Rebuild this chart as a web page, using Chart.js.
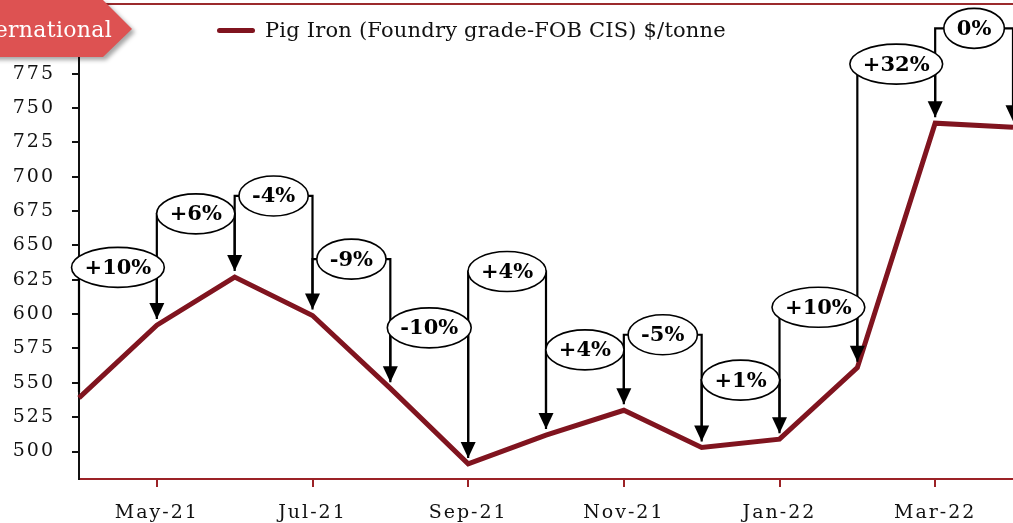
<!DOCTYPE html>
<html>
<head>
<meta charset="utf-8">
<script src="https://cdn.jsdelivr.net/npm/chart.js@4.4.1/dist/chart.umd.min.js"></script>
<style>
    html, body { margin: 0; padding: 0; background: #fff; }
    #wrap { position: relative; width: 1013px; height: 523px; overflow: hidden; }
    #pigChart { position: absolute; left: 0; top: 0; }
    .top-rule { position: absolute; left: 0; top: 3px; width: 1013px; height: 2px; background: #9b2a2c; }
    .tag-wrap { position: absolute; left: -20px; top: 0; filter: drop-shadow(3px 3px 2px rgba(0,0,0,0.35)); }
    .tag { width: 152px; height: 57px; background: #dd5252; clip-path: polygon(0 0, 123px 0, 152px 29px, 123px 57px, 0 57px); }
    .tag-text { position: absolute; right: 901px; top: 17px; color: #fff; font: 22px 'DejaVu Serif', serif; white-space: nowrap; letter-spacing: 0.3px; }
    .legend { position: absolute; left: 217px; top: 18px; display: flex; align-items: center; font: 21px 'DejaVu Serif', serif; color: #111; white-space: nowrap; letter-spacing: 0.2px; }
    .legend i { display: inline-block; width: 38px; height: 5px; border-radius: 3px; background: #80141f; margin-right: 10px; }
</style>
</head>
<body>
<div id="wrap">
    <canvas id="pigChart" width="1013" height="523"></canvas>
    <div class="top-rule"></div>
    <div class="tag-wrap"><div class="tag"></div></div>
    <div class="tag-text">International</div>
    <div class="legend"><i></i>Pig Iron (Foundry grade-FOB CIS) $/tonne</div>
</div>
<script>
const months = ['Apr-21', 'May-21', 'Jun-21', 'Jul-21', 'Aug-21', 'Sep-21', 'Oct-21', 'Nov-21', 'Dec-21', 'Jan-22', 'Feb-22', 'Mar-22', 'Apr-22'];
const pigIron = [539, 592, 627, 599, 546, 491, 512, 530, 503, 509, 561, 739, 736];
const changeLabels = ['+10%', '+6%', '-4%', '-9%', '-10%', '+4%', '+4%', '-5%', '+1%', '+10%', '+32%', '0%'];
const yTicks = [500, 525, 550, 575, 600, 625, 650, 675, 700, 725, 750, 775];

// height of each callout bubble, in $/tonne on the value axis
const calloutLevels = [634, 673, 686, 640, 590, 631, 574, 585, 552, 605, 782, 808];

const serif = "'DejaVu Serif', serif";

const spacingPlugin = {
    id: 'spacing',
    beforeUpdate(chart) { chart.ctx.letterSpacing = '2px'; },
    beforeDraw(chart) { chart.ctx.letterSpacing = '2px'; }
};

const calloutPlugin = {
    id: 'callouts',
    afterDatasetsDraw(chart) {
        const ctx = chart.ctx;
        const x = chart.scales.x;
        const y = chart.scales.y;
        ctx.save();
        ctx.letterSpacing = '0px';
        ctx.strokeStyle = '#000';
        ctx.fillStyle = '#000';

        // legs and arrows first, bubbles go on top
        changeLabels.forEach((txt, i) => {
            const x0 = x.getPixelForValue(i);
            const x1 = x.getPixelForValue(i + 1);
            const yl = y.getPixelForValue(calloutLevels[i]);
            const y0 = y.getPixelForValue(pigIron[i]) - 6;
            const y1 = y.getPixelForValue(pigIron[i + 1]) - 6;
            ctx.lineWidth = 2.2;
            ctx.beginPath();
            ctx.moveTo(x0, y0);
            ctx.lineTo(x0, yl);
            ctx.lineTo(x1, yl);
            ctx.lineTo(x1, y1 - 12);
            ctx.stroke();
            ctx.beginPath();
            ctx.moveTo(x1 - 7.5, y1 - 16);
            ctx.lineTo(x1 + 7.5, y1 - 16);
            ctx.lineTo(x1, y1);
            ctx.closePath();
            ctx.fill();
        });

        ctx.font = 'bold 21px ' + serif;
        ctx.textAlign = 'center';
        ctx.textBaseline = 'middle';
        changeLabels.forEach((txt, i) => {
            const cx = (x.getPixelForValue(i) + x.getPixelForValue(i + 1)) / 2;
            const cy = y.getPixelForValue(calloutLevels[i]);
            const w = ctx.measureText(txt).width + 26;
            ctx.beginPath();
            ctx.ellipse(cx, cy, w / 2, 20, 0, 0, Math.PI * 2);
            ctx.fillStyle = '#fff';
            ctx.fill();
            ctx.lineWidth = 1.6;
            ctx.stroke();
            ctx.fillStyle = '#000';
            ctx.fillText(txt, cx, cy + 1);
        });
        ctx.restore();
    }
};

new Chart(document.getElementById('pigChart'), {
    type: 'line',
    data: {
        labels: months,
        datasets: [{
            label: 'Pig Iron (Foundry grade-FOB CIS) $/tonne',
            data: pigIron,
            borderColor: '#80141f',
            borderWidth: 5,
            borderJoinStyle: 'miter',
            pointRadius: 0,
            tension: 0,
            fill: false
        }]
    },
    options: {
        responsive: false,
        animation: false,
        layout: { padding: { top: 5, right: 0, bottom: 0, left: 0 } },
        plugins: {
            legend: { display: false },
            tooltip: { enabled: false }
        },
        scales: {
            x: {
                offset: false,
                grid: { drawOnChartArea: false, tickLength: 8, color: '#9b2226', lineWidth: 2 },
                border: { color: '#9b2226', width: 2 },
                ticks: { autoSkip: false, maxRotation: 0, padding: 15, color: '#111', font: { family: serif, size: 19 } },
                afterBuildTicks: s => { s.ticks = s.ticks.filter(t => t.value % 2 === 1); },
                afterFit: s => { s.height = 44; s.paddingLeft = 0; s.paddingRight = 0; }
            },
            y: {
                min: 480,
                max: 825,
                grid: { drawOnChartArea: false, tickLength: 7, color: '#111', lineWidth: 2 },
                border: { color: '#111', width: 2 },
                ticks: { padding: 17, color: '#111', font: { family: serif, size: 19 } },
                afterBuildTicks: s => { s.ticks = yTicks.map(v => ({ value: v })); },
                afterFit: s => { s.width = 79; s.paddingTop = 0; s.paddingBottom = 0; }
            }
        }
    },
    plugins: [spacingPlugin, calloutPlugin]
});
</script>
</body>
</html>
